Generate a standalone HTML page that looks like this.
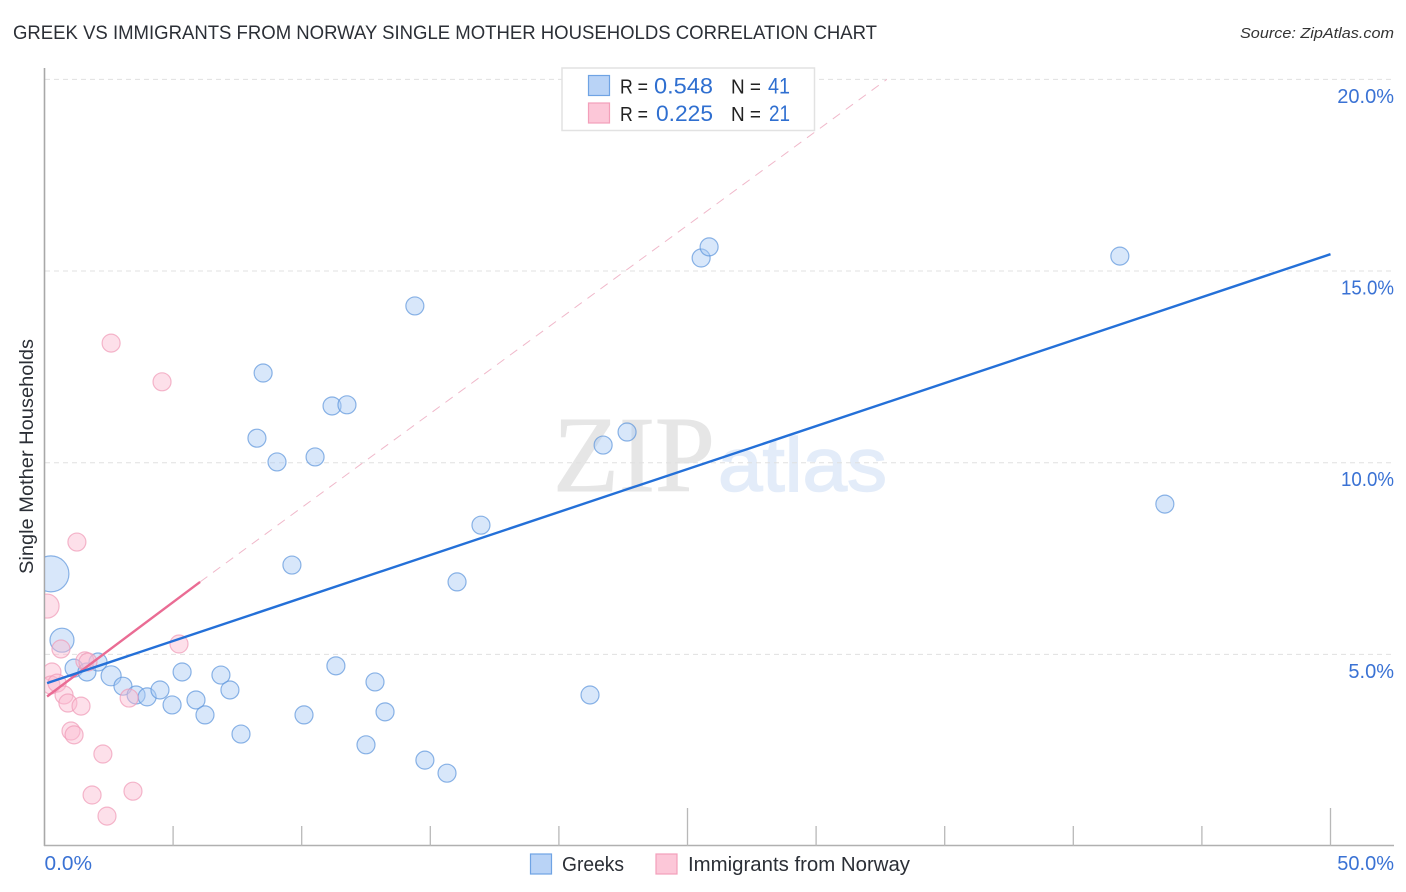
<!DOCTYPE html>
<html>
<head>
<meta charset="utf-8">
<style>
html,body{margin:0;padding:0;background:#fff;width:1406px;height:892px;overflow:hidden}
svg{display:block;font-family:"Liberation Sans",sans-serif}
</style>
</head>
<body>
<svg id="chart" width="1406" height="892" viewBox="0 0 1406 892" xmlns="http://www.w3.org/2000/svg">
  <defs>
    <clipPath id="plot-clip"><rect x="45" y="60" width="1350" height="785"/></clipPath>
  </defs>
  <text x="13" y="39" font-size="19" fill="#2b2f36" textLength="864" lengthAdjust="spacingAndGlyphs">GREEK VS IMMIGRANTS FROM NORWAY SINGLE MOTHER HOUSEHOLDS CORRELATION CHART</text>
  <text x="1394" y="38" font-size="15" font-style="italic" fill="#333" text-anchor="end" textLength="154" lengthAdjust="spacingAndGlyphs">Source: ZipAtlas.com</text>
  <g>
    <text x="553" y="491" font-family="'Liberation Serif',serif" font-size="108" fill="#e6e6e6" stroke="#e6e6e6" stroke-width="1" textLength="162" lengthAdjust="spacingAndGlyphs">ZIP</text>
    <text x="718" y="491" font-size="76" font-family="'Liberation Sans',sans-serif" fill="#e3ecf9" stroke="#e3ecf9" stroke-width="1.500" textLength="169" lengthAdjust="spacingAndGlyphs">atlas</text>
  </g>
  <g id="grid"></g>
  <g id="axes"></g>
  <g id="points-blue" clip-path="url(#plot-clip)"></g>
  <g id="points-pink" clip-path="url(#plot-clip)"></g>
  <g id="lines"></g>
  <text transform="translate(33,456.5) rotate(-90)" font-size="19" fill="#2b2f36" text-anchor="middle" textLength="235" lengthAdjust="spacingAndGlyphs">Single Mother Households</text>
  <g id="stat-legend">
    <rect x="562" y="68" width="252.500" height="62.500" fill="#fff" stroke="#e2e2e2" stroke-width="1.500"/>
    <rect x="588.500" y="75.500" width="21" height="20" fill="#b9d3f6" stroke="#6fa3e4" stroke-width="1.200"/>
    <rect x="588.500" y="103" width="21" height="20" fill="#fcc7d8" stroke="#f39fba" stroke-width="1.200"/>
    <text x="620" y="93.500" font-size="20" fill="#222" textLength="28" lengthAdjust="spacingAndGlyphs">R =</text>
    <text x="654" y="93.500" font-size="22" fill="#2f6fd0" textLength="59" lengthAdjust="spacingAndGlyphs">0.548</text>
    <text x="731" y="93.500" font-size="20" fill="#222" textLength="30" lengthAdjust="spacingAndGlyphs">N =</text>
    <text x="768" y="93.500" font-size="22" fill="#2f6fd0" textLength="22" lengthAdjust="spacingAndGlyphs">41</text>
    <text x="620" y="121" font-size="20" fill="#222" textLength="28" lengthAdjust="spacingAndGlyphs">R =</text>
    <text x="656" y="121" font-size="22" fill="#2f6fd0" textLength="57" lengthAdjust="spacingAndGlyphs">0.225</text>
    <text x="731" y="121" font-size="20" fill="#222" textLength="30" lengthAdjust="spacingAndGlyphs">N =</text>
    <text x="769" y="121" font-size="22" fill="#2f6fd0" textLength="21" lengthAdjust="spacingAndGlyphs">21</text>
  </g>
  <g id="bottom-legend">
    <rect x="530.500" y="854" width="21" height="20" fill="#b9d3f6" stroke="#6fa3e4" stroke-width="1.200"/>
    <text x="562" y="871" font-size="20" fill="#2b2f36" textLength="62" lengthAdjust="spacingAndGlyphs">Greeks</text>
    <rect x="656" y="854" width="21" height="20" fill="#fcc7d8" stroke="#f39fba" stroke-width="1.200"/>
    <text x="688" y="871" font-size="20" fill="#2b2f36" textLength="222" lengthAdjust="spacingAndGlyphs">Immigrants from Norway</text>
  </g>
</svg>
<script>
const xTickValues = [0, 5, 10, 15, 20, 25, 30, 35, 40, 45, 50];
const xMajorTicks = [25, 50];
const xTickLabels = ["0.0%", "50.0%"];
const yGridValues = [5, 10, 15, 20];
const yTickLabels = ["5.0%", "10.0%", "15.0%", "20.0%"];

const greeksX = [0.25,0.68,1.15,1.65,2.08,2.59,3.05,3.56,3.99,4.49,4.96,5.35,5.89,6.24,6.86,7.21,7.64,8.26,8.50,9.04,9.62,10.09,10.52,11.18,11.33,11.76,12.50,12.85,13.24,14.40,14.79,15.65,16.04,16.97,21.21,21.72,22.65,25.53,25.84,41.81,43.56];
const greeksY = [7.10,5.37,4.64,4.54,4.80,4.44,4.17,3.94,3.89,4.07,3.68,4.54,3.81,3.42,4.46,4.07,2.92,10.64,12.34,10.02,7.33,3.42,10.15,11.48,4.70,11.51,2.64,4.28,3.50,14.09,2.24,1.90,6.89,8.37,3.94,10.46,10.80,15.34,15.63,15.39,8.92];
const greeksSize = [18,12,9,9,9,10,9,9,9,9,9,9,9,9,9,9,9,9,9,9,9,9,9,9,9,9,9,9,9,9,9,9,9,9,9,9,9,9,9,9,9];

const norwayX = [0.10,1.26,2.59,4.57,0.64,0.29,0.25,0.49,0.76,0.91,1.42,1.03,1.15,1.57,1.69,2.27,1.85,3.44,2.43,3.29,5.23];
const norwayY = [6.26,7.93,13.12,12.11,5.14,4.54,4.20,4.25,3.94,3.73,3.65,3.00,2.90,4.83,4.80,2.40,1.33,1.43,0.78,3.86,5.27];
const norwaySize = [12,9,9,9,9,9,9,9,9,9,9,9,9,9,9,9,9,9,9,9,9];

const greeksTrendX = [0.1, 50];
const greeksTrendY = [4.25, 15.44];
const norwayTrendX = [0.1, 6.05];
const norwayTrendY = [3.9, 6.89];
const norwayDashX = [6.05, 32.75];
const norwayDashY = [6.89, 20.0];

function sx(v){ return 44.5 + v * 25.72; }
function sy(v){ return 846 - v * 38.33; }
const NS = 'http://www.w3.org/2000/svg';
function mk(parent, tag, attrs, text){
  const el = document.createElementNS(NS, tag);
  for (const k in attrs) el.setAttribute(k, attrs[k]);
  if (text !== undefined) el.textContent = text;
  parent.appendChild(el);
  return el;
}
const grid = document.getElementById('grid');
const axes = document.getElementById('axes');
const ptsB = document.getElementById('points-blue');
const ptsP = document.getElementById('points-pink');
const lines = document.getElementById('lines');

yGridValues.forEach(function(v, i){
  const g = mk(grid, 'line', {x1:45, x2:1393, y1:sy(v), y2:sy(v), stroke:'#e0e0e0', 'stroke-width':1, 'stroke-dasharray':'5 4'});
  
  
  const t = mk(axes, 'text', {x:1394, y:sy(v) + 23.5, 'font-size':20, fill:'#3a72d4', 'text-anchor':'end'}, yTickLabels[i]);
  if (yTickLabels[i].charAt(0) === '1') {
    t.setAttribute('textLength', 53);
    t.setAttribute('lengthAdjust', 'spacingAndGlyphs');
  }
  
  
});

const yAxis = mk(axes, 'line', {x1:44.5, x2:44.5, y1:68, y2:846, stroke:'#a8a8a8', 'stroke-width':1.600});


const xAxis = mk(axes, 'line', {x1:44, x2:1394, y1:845.5, y2:845.5, stroke:'#b0b0b0', 'stroke-width':1.400});



xTickValues.forEach(function(v){
  const top = xMajorTicks.indexOf(v) >= 0 ? 808 : 826;
  if (v === 0) return;
  const tk = mk(axes, 'line', {x1:sx(v), x2:sx(v), y1:top, y2:846, stroke:'#b8b8b8', 'stroke-width':1.300});
  
  
});
const xl0 = mk(axes, 'text', {x:44.5, y:870, 'font-size':20, fill:'#3a72d4', textLength:47.5, lengthAdjust:'spacingAndGlyphs'}, xTickLabels[0]);


const xl1 = mk(axes, 'text', {x:1394, y:870, 'font-size':20, fill:'#3a72d4', 'text-anchor':'end'}, xTickLabels[1]);



greeksX.forEach(function(v, i){
  const c = mk(ptsB, 'circle', {cx:sx(v), cy:sy(greeksY[i]), r:greeksSize[i], fill:'#a9c9f3', 'fill-opacity':0.45, stroke:'#5f97dc', 'stroke-opacity':0.72, 'stroke-width':1.200});
  
  
});
norwayX.forEach(function(v, i){
  const c = mk(ptsP, 'circle', {cx:sx(v), cy:sy(norwayY[i]), r:norwaySize[i], fill:'#fbbbd0', 'fill-opacity':0.45, stroke:'#f09ab6', 'stroke-opacity':0.7, 'stroke-width':1.200});
  
  
});

const dash = mk(lines, 'line', {x1:sx(norwayDashX[0]), y1:sy(norwayDashY[0]), x2:sx(norwayDashX[1]), y2:sy(norwayDashY[1]), stroke:'#f0b8ca', 'stroke-width':1, 'stroke-dasharray':'9 7'});


const pinkLine = mk(lines, 'line', {x1:sx(norwayTrendX[0]), y1:sy(norwayTrendY[0]), x2:sx(norwayTrendX[1]), y2:sy(norwayTrendY[1]), stroke:'#ea6c94', 'stroke-width':2.400});


const blueLine = mk(lines, 'line', {x1:sx(greeksTrendX[0]), y1:sy(greeksTrendY[0]), x2:sx(greeksTrendX[1]), y2:sy(greeksTrendY[1]), stroke:'#2470d8', 'stroke-width':2.400});


</script>
</body>
</html>
